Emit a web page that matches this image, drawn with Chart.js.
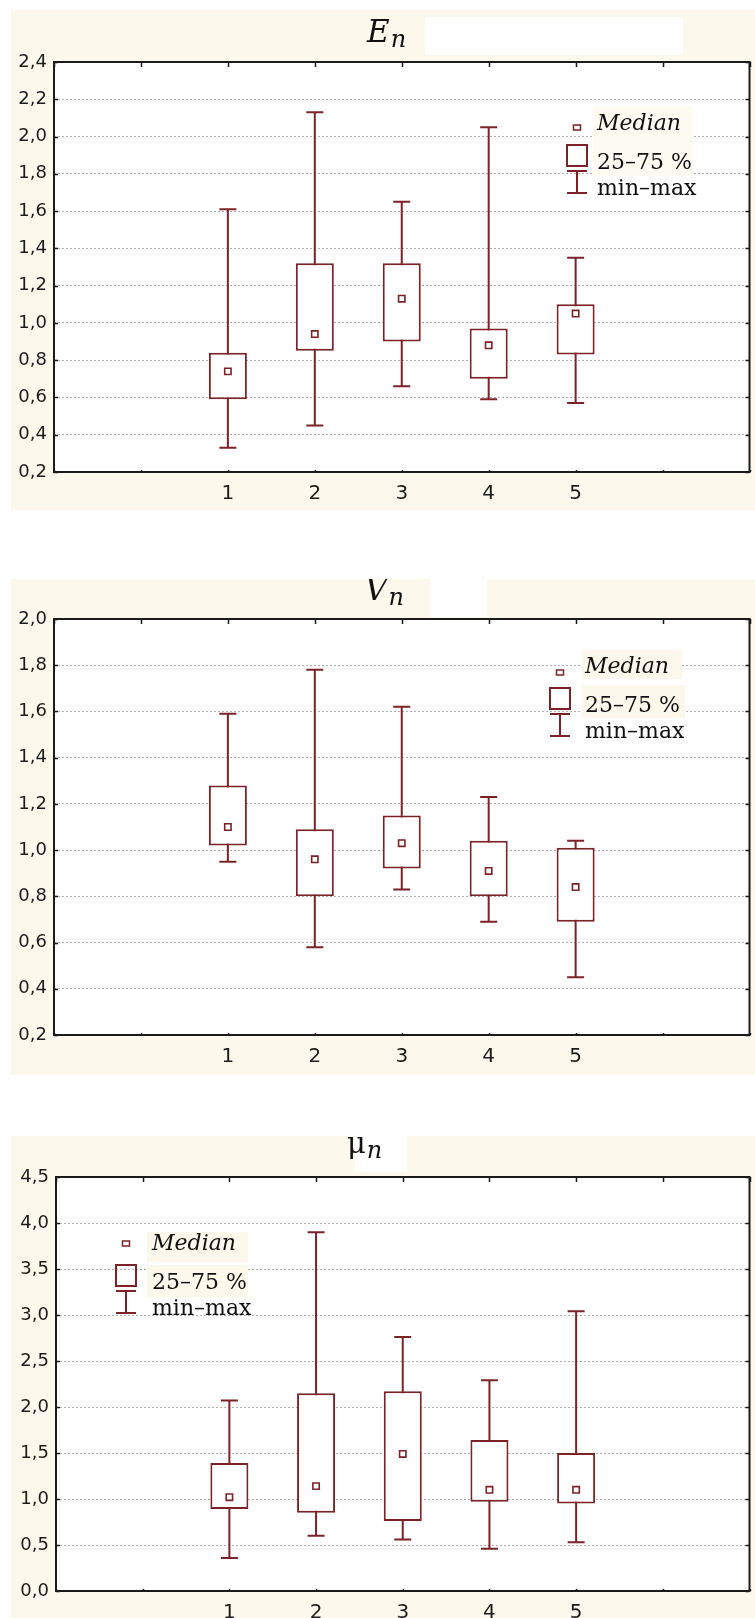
<!DOCTYPE html>
<html>
<head>
<meta charset="utf-8">
<script src="https://cdn.jsdelivr.net/npm/chart.js@4.4.1/dist/chart.umd.min.js"></script>
<style>
html,body{margin:0;padding:0;background:#fff;}
#page{position:relative;width:755px;height:1618px;overflow:hidden;background:#fff;}
.cream{position:absolute;left:11px;width:760px;background:#fdf8ec;}
canvas{position:absolute;left:0;}
</style>
</head>
<body>
<div id="page">
  <div class="cream" style="top:10px;height:500px"></div>
  <div class="cream" style="top:579px;height:496px"></div>
  <div class="cream" style="top:1136px;height:490px"></div>
  <canvas id="c1" width="760" height="500" style="top:10px"></canvas>
  <canvas id="c2" width="760" height="496" style="top:579px"></canvas>
  <canvas id="c3" width="760" height="500" style="top:1136px"></canvas>
</div>
<script>
// ---------- data ----------
const categories = ['1', '2', '3', '4', '5'];
const categoryPositions = [1, 2, 3, 4, 5];
const xTickPositions = [-1, 0, 1, 2, 3, 4, 5, 6, 7];

// E_n
const eMin    = [0.33, 0.45, 0.66, 0.59, 0.57];
const eQ1     = [0.59, 0.85, 0.90, 0.70, 0.83];
const eMedian = [0.74, 0.94, 1.13, 0.88, 1.05];
const eQ3     = [0.84, 1.32, 1.32, 0.97, 1.10];
const eMax    = [1.61, 2.13, 1.65, 2.05, 1.35];
const eTicks  = [0.2, 0.4, 0.6, 0.8, 1.0, 1.2, 1.4, 1.6, 1.8, 2.0, 2.2, 2.4];

// V_n
const vMin    = [0.95, 0.58, 0.83, 0.69, 0.45];
const vQ1     = [1.02, 0.80, 0.92, 0.80, 0.69];
const vMedian = [1.10, 0.96, 1.03, 0.91, 0.84];
const vQ3     = [1.28, 1.09, 1.15, 1.04, 1.01];
const vMax    = [1.59, 1.78, 1.62, 1.23, 1.04];
const vTicks  = [0.2, 0.4, 0.6, 0.8, 1.0, 1.2, 1.4, 1.6, 1.8, 2.0];

// mu_n
const mMin    = [0.36, 0.60, 0.56, 0.46, 0.53];
const mQ1     = [0.89, 0.85, 0.76, 0.97, 0.95];
const mMedian = [1.02, 1.14, 1.49, 1.10, 1.10];
const mQ3     = [1.39, 2.15, 2.17, 1.64, 1.50];
const mMax    = [2.07, 3.90, 2.76, 2.29, 3.04];
const mTicks  = [0.0, 0.5, 1.0, 1.5, 2.0, 2.5, 3.0, 3.5, 4.0, 4.5];

const legendLabels = ['Median', '25\u201375 %', 'min\u2013max'];

// ---------- styles ----------
const MAROON = '#7b2327';
const CREAM = '#fdf8ec';
const INK = '#1c1c1c';
const GRID = '#b0b0b0';

const panels = [
  { id: 'c1', stats: {min: eMin, q1: eQ1, med: eMedian, q3: eQ3, max: eMax},
    yMin: 0.2, yMax: 2.4, yTicks: eTicks,
    layout: {top: 52, yAxisW: 54, xAxisH: 38, padRight: 1},
    title: {main: 'E', mainFont: 'italic 31px "DejaVu Serif"', x: 367, base: 32, subDy: 5},
    whiteBox: [425, 7, 258, 38],
    legend: {cx: 577, b1: 120, tx: 597, markerDy: -2, patch: '#fefbf3', patchRects: [[593, 96, 100, 70]]} },
  { id: 'c2', stats: {min: vMin, q1: vQ1, med: vMedian, q3: vQ3, max: vMax},
    yMin: 0.2, yMax: 2.0, yTicks: vTicks,
    layout: {top: 40, yAxisW: 54, xAxisH: 40, padRight: 1},
    title: {main: 'V', mainFont: 'italic 31px "DejaVu Serif"', x: 365, base: 21, subDy: 5},
    whiteBox: [430, 0, 57, 38],
    legend: {cx: 560, b1: 94, tx: 585, markerDy: 0, patch: CREAM, patchRects: [[582, 71, 100, 29], [582, 106, 103, 33]]} },
  { id: 'c3', stats: {min: mMin, q1: mQ1, med: mMedian, q3: mQ3, max: mMax},
    yMin: 0, yMax: 4.5, yTicks: mTicks,
    layout: {top: 41, yAxisW: 56, xAxisH: 45, padRight: 3},
    title: {main: '\u03bc', mainFont: '29px "DejaVu Serif"', x: 347, base: 17, subDy: 5},
    whiteBox: [355, 0, 52, 36],
    legend: {cx: 126, b1: 114, tx: 152, markerDy: -6, patch: CREAM, patchRects: [[147, 96, 101, 30], [147, 129, 101, 32]]} }
];

function fmtTick(v) { return v.toFixed(1).replace('.', ','); }

function buildDatasets(s) {
  const pts = (arr) => categoryPositions.map((x, i) => ({x: x, y: arr[i]}));
  return [
    { type: 'bar', data: categoryPositions.map((x, i) => ({x: x, y: [s.min[i], s.max[i]]})),
      maxBarThickness: 2, backgroundColor: MAROON, borderWidth: 0, grouped: false, order: 3 },
    { type: 'bar', data: categoryPositions.map((x, i) => ({x: x, y: [s.q1[i], s.q3[i]]})),
      maxBarThickness: 38, backgroundColor: '#ffffff', borderColor: MAROON, borderWidth: 2,
      borderSkipped: false, grouped: false, order: 2 },
    { type: 'scatter', data: pts(s.min).concat(pts(s.max)), showLine: false,
      pointStyle: 'line', pointRadius: 8.5, pointHoverRadius: 8.5,
      pointBorderColor: MAROON, pointBorderWidth: 2, order: 1 },
    { type: 'scatter', data: pts(s.med), showLine: false,
      pointStyle: 'rect', pointRadius: 4.5, pointHoverRadius: 4.5,
      pointBackgroundColor: '#ffffff', pointBorderColor: MAROON, pointBorderWidth: 1.6, order: 0 }
  ];
}

const decorPlugin = {
  id: 'decor',
  beforeDraw(chart, args, opts) {
    const P = opts.panel;
    const ctx = chart.ctx;
    const a = chart.chartArea;
    ctx.save();
    ctx.fillStyle = '#ffffff';
    const wb = P.whiteBox;
    ctx.fillRect(wb[0], wb[1], wb[2], wb[3]);
    ctx.fillRect(a.left, a.top, a.right - a.left, a.bottom - a.top);
    ctx.restore();
  },
  afterDraw(chart, args, opts) {
    const P = opts.panel;
    const ctx = chart.ctx;
    const a = chart.chartArea;
    const xs = chart.scales.x, ys = chart.scales.y;
    ctx.save();
    // frame
    ctx.strokeStyle = '#1b1b1b';
    ctx.lineWidth = 2;
    ctx.strokeRect(a.left, a.top, a.right - a.left, a.bottom - a.top);
    // inward ticks
    ctx.lineWidth = 1.5;
    ctx.beginPath();
    ys.ticks.forEach(t => {
      const py = Math.round(ys.getPixelForValue(t.value)) + 0.5;
      ctx.moveTo(a.left, py); ctx.lineTo(a.left + 4, py);
      ctx.moveTo(a.right - 4, py); ctx.lineTo(a.right, py);
    });
    xs.ticks.forEach(t => {
      const px = Math.round(xs.getPixelForValue(t.value)) + 0.5;
      ctx.moveTo(px, a.top); ctx.lineTo(px, a.top + 5);
      ctx.moveTo(px, a.bottom); ctx.lineTo(px, a.bottom - 2);
    });
    ctx.stroke();

    // title
    const T = P.title;
    ctx.fillStyle = '#111';
    ctx.textAlign = 'left';
    ctx.textBaseline = 'alphabetic';
    ctx.font = T.mainFont;
    ctx.fillText(T.main, T.x, T.base);
    const w = ctx.measureText(T.main).width;
    ctx.font = 'italic 24px "DejaVu Serif"';
    ctx.fillText('n', T.x + w + 1, T.base + T.subDy);

    // legend
    const L = P.legend;
    ctx.fillStyle = L.patch;
    L.patchRects.forEach(r => ctx.fillRect(r[0], r[1], r[2], r[3]));
    ctx.strokeStyle = MAROON;
    ctx.lineWidth = 1.5;
    ctx.strokeRect(L.cx - 3.5, L.b1 + L.markerDy - 3, 7, 5);
    ctx.lineWidth = 2;
    ctx.strokeRect(L.cx - 10, L.b1 + 15, 20, 21);
    ctx.beginPath();
    ctx.moveTo(L.cx, L.b1 + 41); ctx.lineTo(L.cx, L.b1 + 63);
    ctx.moveTo(L.cx - 10, L.b1 + 41); ctx.lineTo(L.cx + 10, L.b1 + 41);
    ctx.moveTo(L.cx - 10, L.b1 + 63); ctx.lineTo(L.cx + 10, L.b1 + 63);
    ctx.stroke();
    ctx.fillStyle = '#111';
    ctx.font = 'italic 22px "DejaVu Serif"';
    ctx.fillText(legendLabels[0], L.tx, L.b1);
    ctx.font = '22px "DejaVu Serif"';
    ctx.fillText(legendLabels[1], L.tx, L.b1 + 39);
    ctx.fillText(legendLabels[2], L.tx, L.b1 + 65);
    ctx.restore();
  }
};

panels.forEach(P => {
  const ctx = document.getElementById(P.id).getContext('2d');
  new Chart(ctx, {
    type: 'bar',
    data: { datasets: buildDatasets(P.stats) },
    plugins: [decorPlugin],
    options: {
      responsive: false,
      devicePixelRatio: 1,
      animation: false,
      events: [],
      indexAxis: 'x',
      layout: { padding: { top: P.layout.top, right: P.layout.padRight, bottom: 0, left: 0 } },
      plugins: {
        legend: { display: false },
        tooltip: { enabled: false },
        title: { display: false },
        decor: { panel: P }
      },
      scales: {
        x: {
          type: 'linear', min: -1, max: 7, offset: false,
          afterBuildTicks: s => { s.ticks = xTickPositions.map(v => ({value: v})); },
          afterFit: s => { s.height = P.layout.xAxisH; },
          ticks: {
            autoSkip: false, maxRotation: 0, padding: 10,
            color: INK, font: { family: 'DejaVu Sans', size: 20 },
            callback: v => { const i = categoryPositions.indexOf(v); return i >= 0 ? categories[i] : ''; }
          },
          grid: { display: false, drawTicks: false },
          border: { display: false }
        },
        y: {
          type: 'linear', min: P.yMin, max: P.yMax,
          afterBuildTicks: s => { s.ticks = P.yTicks.map(v => ({value: v})); },
          afterFit: s => { s.width = P.layout.yAxisW; },
          ticks: {
            padding: 7, color: INK, font: { family: 'DejaVu Sans', size: 18 },
            callback: v => fmtTick(v)
          },
          grid: { color: GRID, lineWidth: 1, drawTicks: false },
          border: { display: false, dash: [2, 2] }
        }
      }
    }
  });
});
</script>
</body>
</html>
